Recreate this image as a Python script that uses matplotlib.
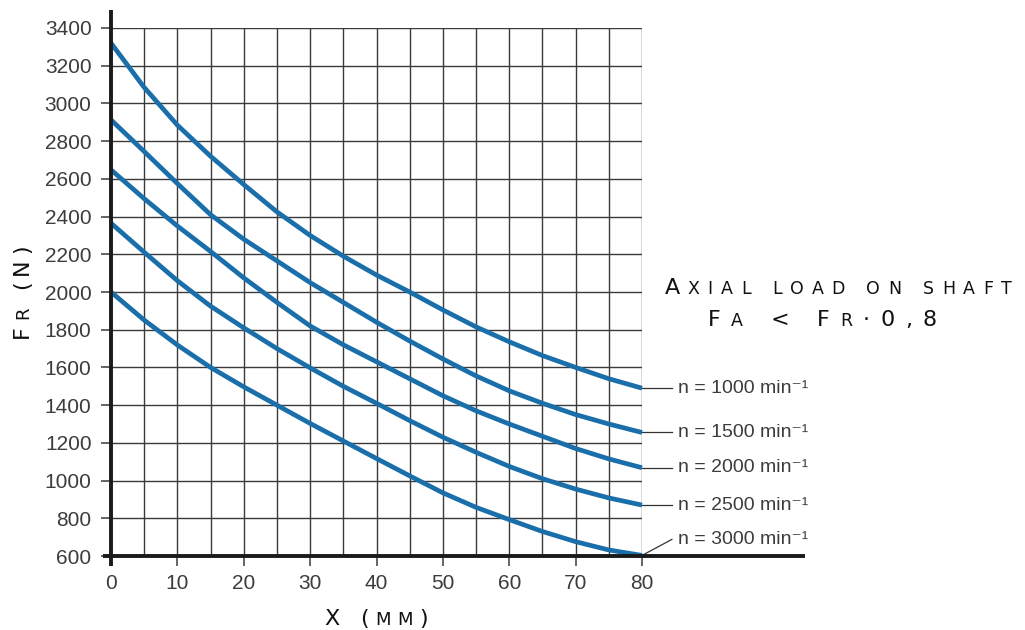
import numpy as np
import matplotlib.pyplot as plt
from matplotlib.font_manager import FontProperties, findfont, get_font

# values (Fr in N at distance x in mm)
x_mm = [0, 5, 10, 15, 20, 25, 30, 35, 40, 45, 50, 55, 60, 65, 70, 75, 80]
fr_1000 = [3320, 3085, 2885, 2720, 2570, 2425, 2300, 2190, 2090, 2000, 1905, 1815, 1736, 1663, 1600, 1540, 1490]
fr_1500 = [2913, 2745, 2575, 2410, 2280, 2165, 2050, 1945, 1840, 1740, 1645, 1555, 1476, 1410, 1350, 1300, 1255]
fr_2000 = [2648, 2495, 2350, 2215, 2075, 1945, 1820, 1720, 1630, 1540, 1450, 1370, 1300, 1235, 1170, 1115, 1068]
fr_2500 = [2365, 2211, 2060, 1925, 1810, 1700, 1598, 1500, 1410, 1318, 1230, 1150, 1075, 1010, 955, 908, 870]
fr_3000 = [2000, 1851, 1719, 1600, 1497, 1400, 1303, 1210, 1117, 1025, 935, 858, 793, 730, 676, 632, 603]
curves = [fr_1000, fr_1500, fr_2000, fr_2500, fr_3000]
speed_labels = ["n = 1000 min⁻¹", "n = 1500 min⁻¹", "n = 2000 min⁻¹",
                "n = 2500 min⁻¹", "n = 3000 min⁻¹"]
label_y = [1490, 1255, 1068, 870, 688]

W, H = 1025, 630
BLUE = '#1a6fab'
GRID = '#3a3a3a'
TXT = '#3c3c3c'
NARROW = ['Liberation Sans Narrow', 'Liberation Sans', 'DejaVu Sans']

fig = plt.figure(figsize=(W / 100, H / 100), dpi=100)
ax = fig.add_axes([111 / W, 74 / H, 531 / W, 528 / H])  # [left, bottom, width, height]


def caps_text(cx, cy, parts, width, rot=0, color='#111111'):
    # fake small caps with letter spacing, positions in pixels from top-left
    fam = 'DejaVu Sans'
    font = get_font(findfont(FontProperties(family=fam)))
    glyphs = []
    for s, size in parts:
        font.set_size(size, fig.dpi)
        for ch in s:
            adv = font.load_char(ord(ch)).linearHoriAdvance / 65536
            glyphs.append((ch, size, adv))
    track = (width - sum(g[2] for g in glyphs)) / (len(glyphs) - 1)
    pos = -width / 2
    for ch, size, adv in glyphs:
        if ch != ' ':
            if rot == 0:
                px, py = cx + pos, cy
            else:
                px, py = cx, cy - pos
            fig.text(px / W, 1 - py / H, ch, fontsize=size, family=fam, color=color,
                     rotation=rot, rotation_mode='anchor', ha='left', va='baseline')
        pos += adv + track


for fr in curves:
    ax.plot(x_mm, fr, color=BLUE, lw=3.4, solid_capstyle='butt', zorder=4, clip_on=False)

ax.set_xlim(0, 80)
ax.set_ylim(600, 3400)
ax.set_xticks(np.arange(0, 81, 10))
ax.set_xticks(np.arange(0, 81, 5), minor=True)
ax.set_yticks(np.arange(600, 3401, 200))
ax.grid(True, which='both', color=GRID, lw=1.0)
ax.set_axisbelow(True)
for s in ax.spines.values():
    s.set_visible(False)
ax.tick_params(axis='both', which='major', length=7, width=1.1, color=GRID,
               labelcolor=TXT, labelsize=15, pad=6)
ax.tick_params(axis='x', which='minor', length=0)
ax.tick_params(axis='y', pad=7)
for lab in ax.get_xticklabels() + ax.get_yticklabels():
    lab.set_family(NARROW)

# heavy axis lines running past the grid
ax.plot([-0.015, 1.307], [0, 0], transform=ax.transAxes, color='#1a1a1a', lw=2.8,
        clip_on=False, solid_capstyle='butt', zorder=5)
ax.plot([0, 0], [-0.019, 1.034], transform=ax.transAxes, color='#1a1a1a', lw=2.8,
        clip_on=False, solid_capstyle='butt', zorder=5)

# speed labels with leader lines
for fr, lab, ly in zip(curves, speed_labels, label_y):
    ax.plot([80, 84.5], [fr[-1], ly if ly < 800 else fr[-1]], color='#333333', lw=0.9,
            clip_on=False, zorder=3)
    ax.text(85.4, ly, lab, family=NARROW, fontsize=14, color=TXT, va='center', ha='left')

caps_text(838, 294, [("A", 16), ("XIAL LOAD ON SHAFT", 12.5)], 347)
caps_text(822, 326, [("F", 16), ("A", 12.5), (" < ", 16), ("F", 16), ("R", 12.5), ("·0,8", 16)], 229)
caps_text(376, 625, [("X", 16), (" (", 16), ("MM", 13), (")", 16)], 103)
caps_text(28, 291, [("F", 16), ("R", 13), (" (", 16), ("N", 16), (")", 16)], 93, rot=90)

fig.savefig('out.png', dpi=100, facecolor='white')
